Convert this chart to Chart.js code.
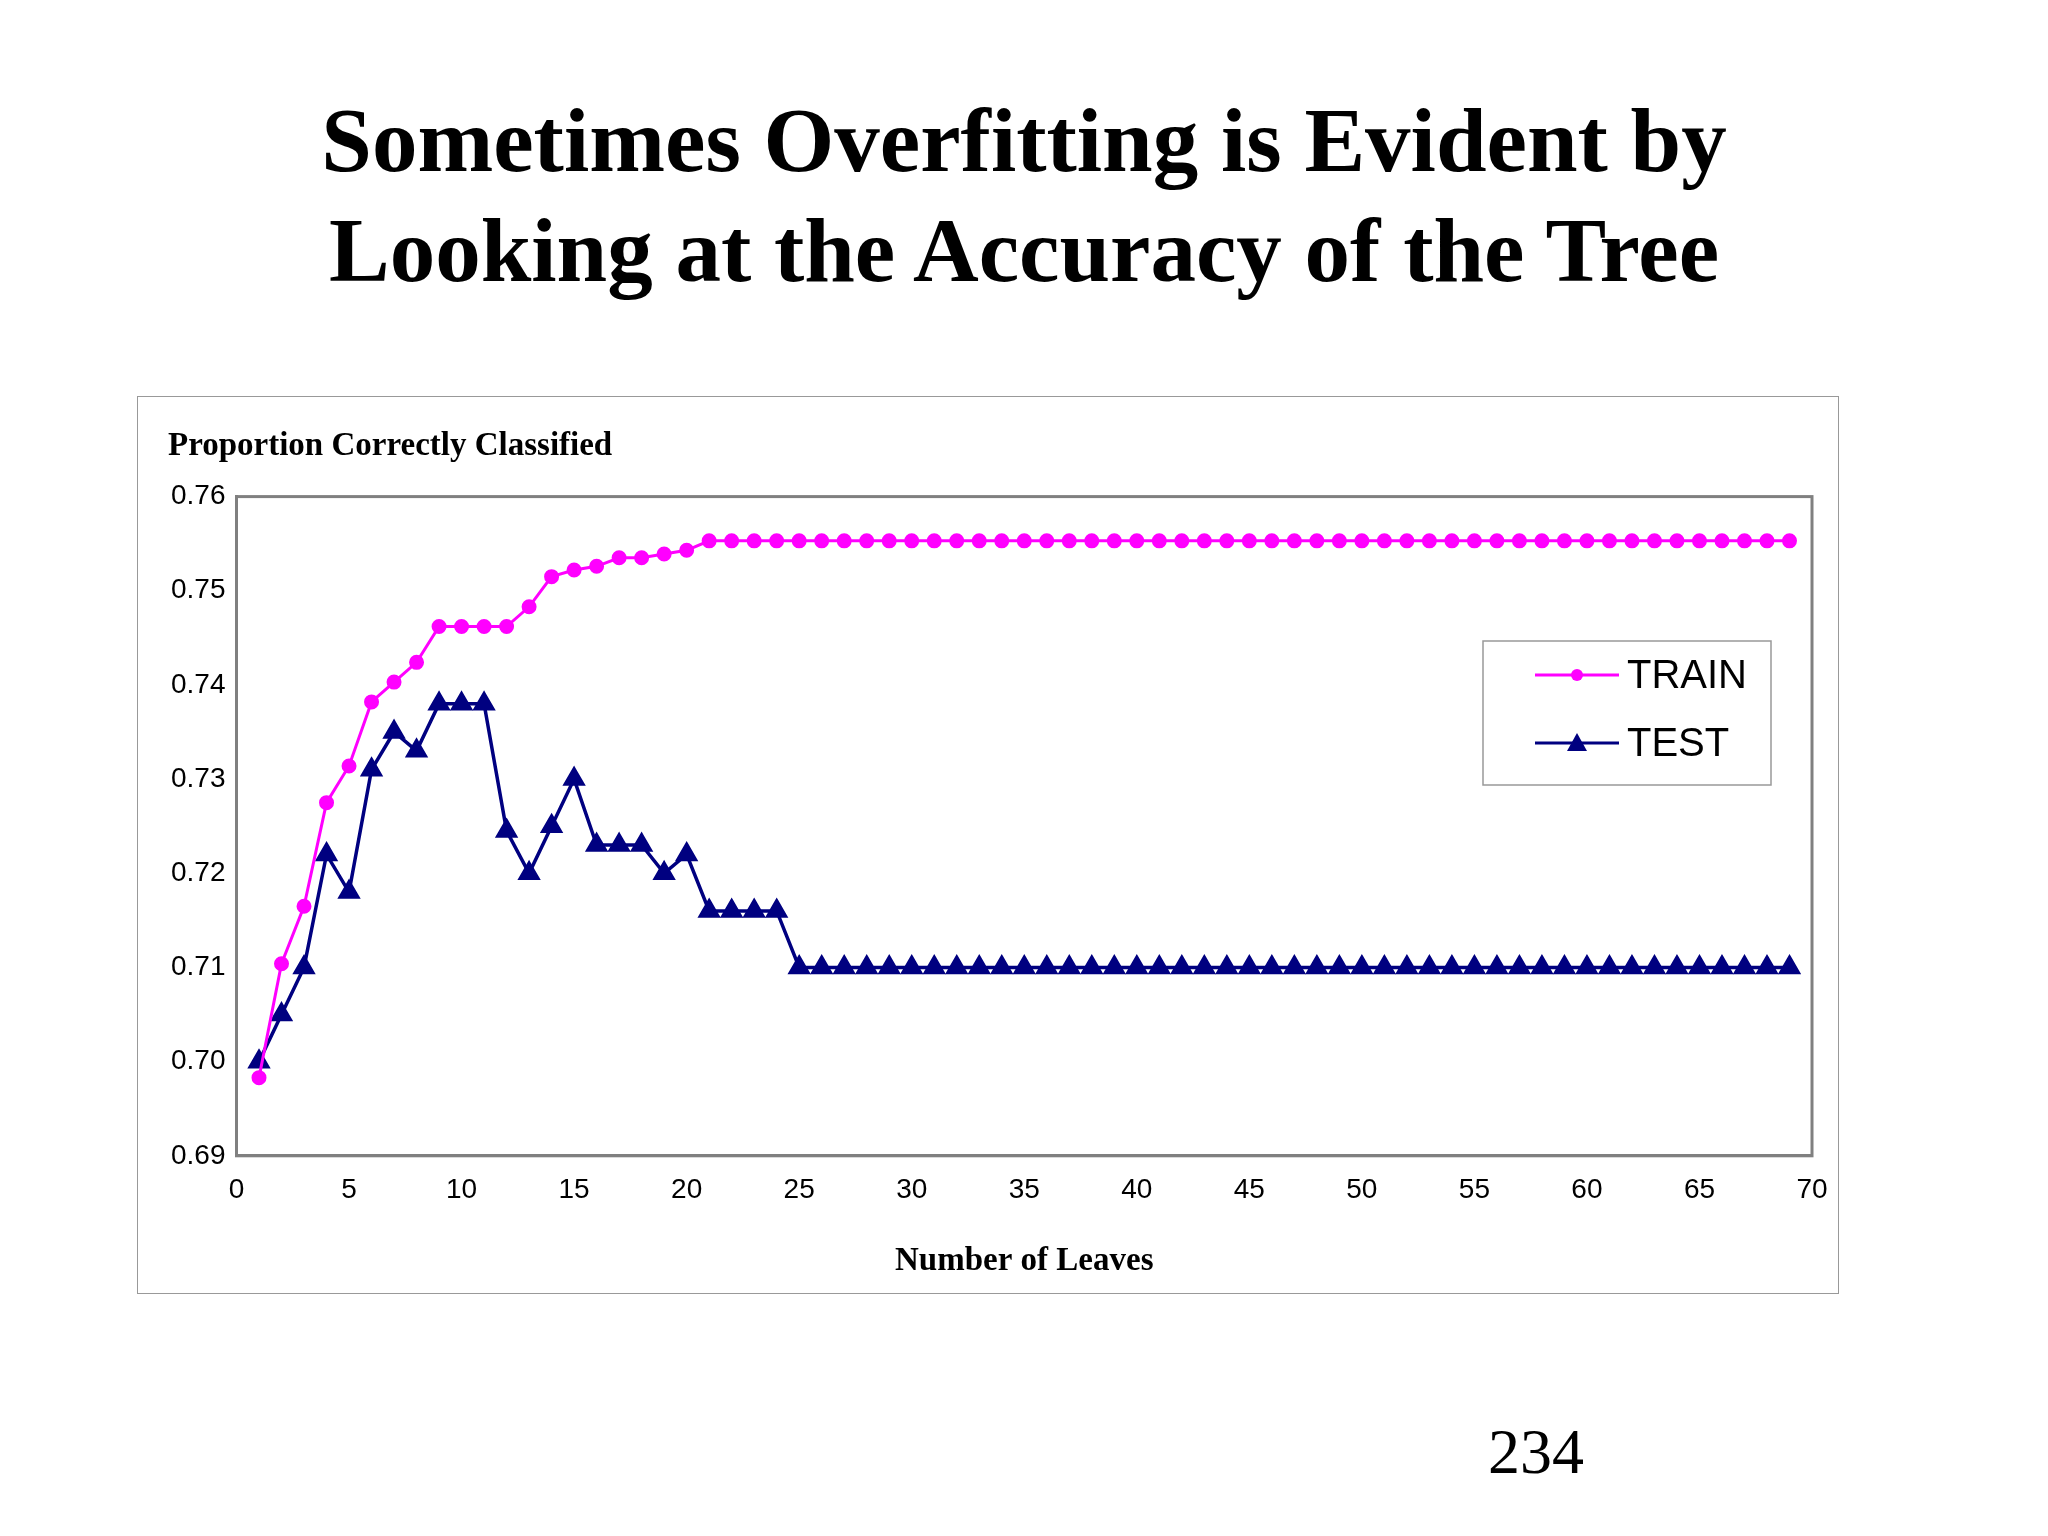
<!DOCTYPE html>
<html>
<head>
<meta charset="utf-8">
<script src="https://cdn.jsdelivr.net/npm/chart.js@4"></script>
<style>
  body { margin: 0; width: 2048px; height: 1536px; background: #fff; position: relative; font-family: "Liberation Serif", serif; }
  h1 { position: absolute; top: 86px; left: 0; width: 2048px; margin: 0; text-align: center; font-size: 91px; line-height: 110px; font-weight: bold; }
  #box { position: absolute; left: 137px; top: 396px; width: 1700px; height: 896px; border: 1px solid #999; }
  #page { position: absolute; left: 1488px; top: 1415px; font-size: 64px; }
</style>
</head>
<body>
<h1>Sometimes Overfitting is Evident by<br>Looking at the Accuracy of the Tree</h1>
<div id="box"><canvas id="chart" width="1700" height="896"></canvas></div>
<div id="page">234</div>
<script>
// Number of leaves 1..69
const leaves = Array.from({ length: 69 }, (_, i) => i + 1);

const trainHead = [0.6983, 0.7104, 0.7165, 0.7275, 0.7314, 0.7382, 0.7403, 0.7424,
  0.7462, 0.7462, 0.7462, 0.7462, 0.7483, 0.7515, 0.7522, 0.7526, 0.7535, 0.7535,
  0.7539, 0.7543];
const testHead = [0.700, 0.705, 0.710, 0.722, 0.718, 0.731, 0.735, 0.733,
  0.738, 0.738, 0.738, 0.7245, 0.720, 0.725, 0.730, 0.723, 0.723, 0.723,
  0.720, 0.722, 0.716, 0.716, 0.716, 0.716];
// flat tails
const trainTail = new Array(49).fill(0.7553);
const testTail = new Array(45).fill(0.710);

const trainValues = trainHead.concat(trainTail);
const testValues = testHead.concat(testTail);

const xTicks = [0, 5, 10, 15, 20, 25, 30, 35, 40, 45, 50, 55, 60, 65, 70];

// Legend box drawn inside the plot
const legendBox = {
    id: 'legendBox',
    afterDraw(chart) {
        const ctx = chart.ctx;
        const x = 1345, y = 244, w = 288, h = 144;
        ctx.save();
        ctx.fillStyle = '#fff';
        ctx.fillRect(x, y, w, h);
        ctx.strokeStyle = '#999';
        ctx.lineWidth = 1.5;
        ctx.strokeRect(x, y, w, h);
        chart.data.datasets.forEach((ds, i) => {
            const ly = y + 34 + i * 68;
            ctx.strokeStyle = ds.borderColor;
            ctx.lineWidth = 3;
            ctx.beginPath();
            ctx.moveTo(x + 52, ly);
            ctx.lineTo(x + 136, ly);
            ctx.stroke();
            ctx.fillStyle = ds.borderColor;
            ctx.beginPath();
            if (ds.pointStyle === 'triangle') {
                ctx.moveTo(x + 94, ly - 10);
                ctx.lineTo(x + 104, ly + 8);
                ctx.lineTo(x + 84, ly + 8);
                ctx.closePath();
            } else {
                ctx.arc(x + 94, ly, 6, 0, Math.PI * 2);
            }
            ctx.fill();
            ctx.fillStyle = '#000';
            ctx.font = '40px "Liberation Sans Narrow", "Liberation Sans", sans-serif';
            ctx.textBaseline = 'middle';
            ctx.fillText(ds.label, x + 144, ly + 2);
        });
        ctx.restore();
    }
};

// Gray frame around plot area
const plotFrame = {
    id: 'plotFrame',
    afterDatasetsDraw(chart) {
        const a = chart.chartArea;
        const ctx = chart.ctx;
        ctx.save();
        ctx.strokeStyle = '#808080';
        ctx.lineWidth = 3;
        ctx.strokeRect(a.left, a.top, a.right - a.left, a.bottom - a.top);
        ctx.restore();
    }
};

new Chart(document.getElementById('chart'), {
    type: 'line',
    data: {
        datasets: [{
            label: 'TRAIN',
            data: leaves.map((x, i) => ({ x: x, y: trainValues[i] })),
            borderColor: '#ff00ff',
            backgroundColor: '#ff00ff',
            borderWidth: 3,
            pointStyle: 'circle',
            pointRadius: 6,
            tension: 0
        }, {
            label: 'TEST',
            data: leaves.map((x, i) => ({ x: x, y: testValues[i] })),
            borderColor: '#000080',
            backgroundColor: '#000080',
            borderWidth: 3.5,
            pointStyle: 'triangle',
            pointRadius: 10,
            tension: 0
        }]
    },
    options: {
        responsive: false,
        animation: false,
        layout: { padding: { left: 30, right: 26, top: 10, bottom: 8 } },
        plugins: {
            legend: { display: false },
            tooltip: { enabled: false },
            title: {
                display: true,
                text: 'Proportion Correctly Classified',
                align: 'start',
                color: '#000',
                font: { family: '"Liberation Serif", serif', size: 33, weight: 'bold' },
                padding: { top: 20, bottom: 30 }
            }
        },
        scales: {
            x: {
                type: 'linear',
                min: 0,
                max: 70,
                afterBuildTicks: axis => { axis.ticks = xTicks.map(v => ({ value: v })); },
                grid: { display: false, drawTicks: true, tickLength: 8 },
                border: { color: '#808080', width: 3 },
                ticks: { color: '#000', font: { family: '"Liberation Sans", sans-serif', size: 28 }, maxRotation: 0, padding: 10 },
                title: {
                    display: true,
                    text: 'Number of Leaves',
                    color: '#000',
                    font: { family: '"Liberation Serif", serif', size: 33, weight: 'bold' },
                    padding: { top: 24 }
                }
            },
            y: {
                min: 0.69,
                max: 0.76,
                grid: { display: false, tickLength: 8 },
                border: { color: '#808080', width: 3 },
                ticks: {
                    stepSize: 0.01,
                    color: '#000',
                    font: { family: '"Liberation Sans", sans-serif', size: 28 },
                    callback: v => v.toFixed(2)
                }
            }
        }
    },
    plugins: [legendBox, plotFrame]
});
</script>
</body>
</html>
